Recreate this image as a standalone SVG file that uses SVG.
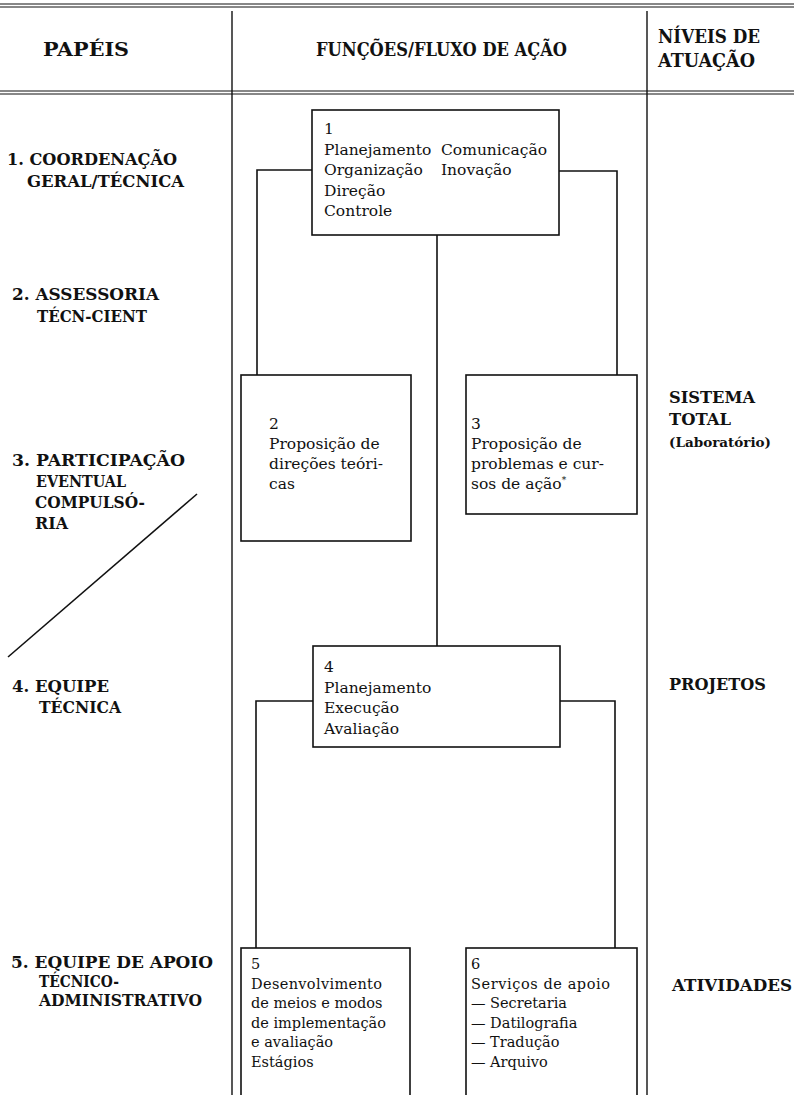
<svg xmlns="http://www.w3.org/2000/svg" width="794" height="1095" viewBox="0 0 794 1095">
<style>
.rule{stroke:#111;stroke-width:1.1;fill:none}
.col{stroke:#111;stroke-width:1.4;fill:none}
.box{stroke:#111;stroke-width:1.6;fill:#fff}
.con{stroke:#111;stroke-width:1.6;fill:none}
.lbl{font-family:"DejaVu Serif","Liberation Serif",serif;font-weight:bold;font-size:16.5px;fill:#111}
.hd{font-family:"DejaVu Serif","Liberation Serif",serif;font-weight:bold;font-size:18px;fill:#111}
.tx{font-family:"DejaVu Serif","Liberation Serif",serif;font-size:15.5px;fill:#111}
.ts{font-family:"DejaVu Serif","Liberation Serif",serif;font-size:14.5px;fill:#111}
</style>
<rect width="794" height="1095" fill="#fff"/>
<g id="header">
<line class="rule" x1="0" y1="4" x2="794" y2="4"/>
<line class="rule" x1="0" y1="7" x2="794" y2="7"/>
<line class="rule" x1="0" y1="91" x2="794" y2="91"/>
<line class="rule" x1="0" y1="94" x2="794" y2="94"/>
<line class="col" x1="232" y1="11" x2="232" y2="1095"/>
<line class="col" x1="647" y1="11" x2="647" y2="1095"/>
<text class="hd" x="43" y="56" textLength="86" lengthAdjust="spacingAndGlyphs">PAPÉIS</text>
<text class="hd" x="316" y="56" textLength="251" lengthAdjust="spacingAndGlyphs">FUNÇÕES/FLUXO DE AÇÃO</text>
<text class="hd" x="658" y="43" textLength="102" lengthAdjust="spacingAndGlyphs">NÍVEIS DE</text>
<text class="hd" x="658" y="67" textLength="97" lengthAdjust="spacingAndGlyphs">ATUAÇÃO</text>
</g>
<g id="roles">
<text class="lbl" x="7" y="165" textLength="170" lengthAdjust="spacingAndGlyphs">1. COORDENAÇÃO</text>
<text class="lbl" x="27" y="187" textLength="157" lengthAdjust="spacingAndGlyphs">GERAL/TÉCNICA</text>
<text class="lbl" x="12" y="300" textLength="147" lengthAdjust="spacingAndGlyphs">2. ASSESSORIA</text>
<text class="lbl" x="37" y="322" textLength="110" lengthAdjust="spacingAndGlyphs">TÉCN-CIENT</text>
<text class="lbl" x="12" y="466" textLength="173" lengthAdjust="spacingAndGlyphs">3. PARTICIPAÇÃO</text>
<text class="lbl" x="36" y="487" textLength="90" lengthAdjust="spacingAndGlyphs">EVENTUAL</text>
<text class="lbl" x="35" y="508" textLength="110" lengthAdjust="spacingAndGlyphs">COMPULSÓ-</text>
<text class="lbl" x="35" y="529" textLength="33" lengthAdjust="spacingAndGlyphs">RIA</text>
<line class="con" x1="8" y1="657" x2="197" y2="494" stroke-width="1.4"/>
<text class="lbl" x="12" y="692" textLength="97" lengthAdjust="spacingAndGlyphs">4. EQUIPE</text>
<text class="lbl" x="39" y="713" textLength="82" lengthAdjust="spacingAndGlyphs">TÉCNICA</text>
<text class="lbl" x="11" y="968" textLength="202" lengthAdjust="spacingAndGlyphs">5. EQUIPE DE APOIO</text>
<text class="lbl" x="39" y="987" textLength="80" lengthAdjust="spacingAndGlyphs">TÉCNICO-</text>
<text class="lbl" x="39" y="1006" textLength="163" lengthAdjust="spacingAndGlyphs">ADMINISTRATIVO</text>
</g>
<g id="levels">
<text class="lbl" x="669" y="403" textLength="86" lengthAdjust="spacingAndGlyphs">SISTEMA</text>
<text class="lbl" x="669" y="425" textLength="62" lengthAdjust="spacingAndGlyphs">TOTAL</text>
<text class="lbl" x="669" y="447" style="font-size:13.5px" textLength="102" lengthAdjust="spacingAndGlyphs">(Laboratório)</text>
<text class="lbl" x="669" y="690" textLength="97" lengthAdjust="spacingAndGlyphs">PROJETOS</text>
<text class="lbl" x="672" y="991" textLength="120" lengthAdjust="spacingAndGlyphs">ATIVIDADES</text>
</g>
<g id="connectors">
<polyline class="con" points="312,170 257,170 257,375"/>
<polyline class="con" points="559,171 617,171 617,375"/>
<line class="con" x1="437" y1="235" x2="437" y2="646"/>
<polyline class="con" points="313,701 256,701 256,948"/>
<polyline class="con" points="560,701 615,701 615,948"/>
</g>
<g id="node-1">
<rect class="box" x="312" y="110" width="247" height="125"/>
<text class="tx" x="324" y="134">1</text>
<text class="tx" x="324" y="154.5">Planejamento</text>
<text class="tx" x="324" y="175">Organização</text>
<text class="tx" x="324" y="195.5">Direção</text>
<text class="tx" x="324" y="216">Controle</text>
<text class="tx" x="441" y="154.5">Comunicação</text>
<text class="tx" x="441" y="175">Inovação</text>
</g>
<g id="node-2">
<rect class="box" x="241" y="375" width="170" height="166"/>
<text class="tx" x="269" y="429">2</text>
<text class="tx" x="269" y="449">Proposição de</text>
<text class="tx" x="269" y="469">direções teóri-</text>
<text class="tx" x="269" y="489">cas</text>
</g>
<g id="node-3">
<rect class="box" x="466" y="375" width="171" height="139"/>
<text class="tx" x="471" y="429">3</text>
<text class="tx" x="471" y="449">Proposição de</text>
<text class="tx" x="471" y="469">problemas e cur-</text>
<text class="tx" x="471" y="489">sos de ação<tspan dy="-6" font-size="9">*</tspan></text>
</g>
<g id="node-4">
<rect class="box" x="313" y="646" width="247" height="101"/>
<text class="tx" x="324" y="672">4</text>
<text class="tx" x="324" y="693">Planejamento</text>
<text class="tx" x="324" y="713">Execução</text>
<text class="tx" x="324" y="734">Avaliação</text>
</g>
<g id="node-5">
<rect class="box" x="241" y="948" width="169" height="160"/>
<text class="ts" x="251" y="969">5</text>
<text class="ts" x="251" y="988.5" textLength="131" lengthAdjust="spacing">Desenvolvimento</text>
<text class="ts" x="251" y="1008">de meios e modos</text>
<text class="ts" x="251" y="1027.5" textLength="135" lengthAdjust="spacing">de implementação</text>
<text class="ts" x="251" y="1047">e avaliação</text>
<text class="ts" x="251" y="1066.5">Estágios</text>
</g>
<g id="node-6">
<rect class="box" x="466" y="948" width="171" height="160"/>
<text class="ts" x="471" y="969">6</text>
<text class="ts" x="471" y="988.5" textLength="139" lengthAdjust="spacing">Serviços de apoio</text>
<text class="ts" x="471" y="1008">— Secretaria</text>
<text class="ts" x="471" y="1027.5">— Datilografia</text>
<text class="ts" x="471" y="1047">— Tradução</text>
<text class="ts" x="471" y="1066.5">— Arquivo</text>
</g>
</svg>
